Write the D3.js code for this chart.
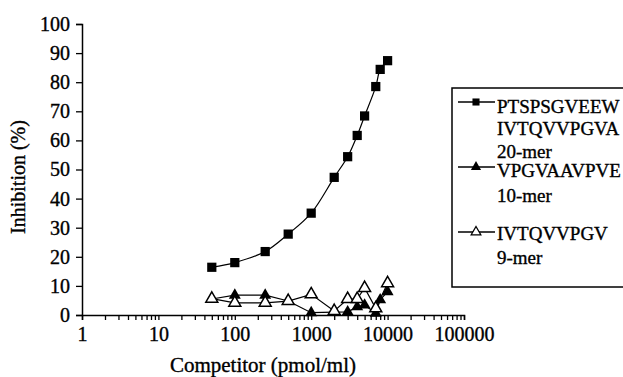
<!DOCTYPE html>
<html><head><meta charset="utf-8">
<script src="https://cdn.jsdelivr.net/npm/d3@7"></script>
<style>body{margin:0;background:#fff}text{font-family:"Liberation Serif","Times New Roman",serif;fill:#000;stroke:#000;stroke-width:0.35px}</style>
</head><body><svg id="c" width="623" height="377"></svg>
<script>
const conc20 = [50,100,250,500,1000,2000,3000,4000,5000,7000,8000,10000];
const inh20  = [16.4,18.0,21.8,27.8,35.0,47.3,54.4,61.7,68.4,78.5,84.4,87.4];
const conc10 = [50,100,250,500,1000,2000,3000,4000,5000,7000,8000,10000];
const inh10  = [5.5,6.8,6.8,4.8,0.8,1.0,1.1,2.8,3.4,0.6,5.2,8.0];
const conc9  = [50,100,250,500,1000,2000,3000,4000,5000,7000,10000];
const inh9   = [5.6,4.2,4.2,4.8,7.1,1.4,5.5,5.5,9.3,2.3,10.9];
const yTicks = [0,10,20,30,40,50,60,70,80,90,100];
const xTicks = [1,10,100,1000,10000,100000];
const legendLabels = [["PTSPSGVEEW","IVTQVVPGVA","20-mer"],["VPGVAAVPVE","10-mer"],["IVTQVVPGV","9-mer"]];
const xTitle = "Competitor (pmol/ml)";
const yTitle = "Inhibition (%)";

const svg = d3.select("#c");
const x = d3.scaleLog().domain([1,100000]).range([82,464]);
const y = d3.scaleLinear().domain([0,100]).range([315,24]);

const ya = svg.append("g").attr("transform","translate(82,0)")
  .call(d3.axisLeft(y).tickValues(yTicks).tickSize(6).tickPadding(6));
ya.selectAll("text").style("font-size","20px").attr("font-family","Liberation Serif");
const minor = [];
for (let d=1; d<100000; d*=10) for (let k=1;k<=9;k++) minor.push(d*k);
minor.push(100000);
const xa = svg.append("g").attr("transform","translate(0,315)")
  .call(d3.axisBottom(x).tickValues(minor).tickSize(5).tickPadding(7)
    .tickFormat(d => xTicks.includes(d) ? String(d) : ""));
xa.selectAll("text").style("font-size","20px").attr("font-family","Liberation Serif");
svg.selectAll(".domain").attr("stroke","#000").attr("stroke-width",1.5);
svg.selectAll(".tick line").attr("stroke","#000").attr("stroke-width",1.3);

svg.append("text").attr("x",263).attr("y",372).attr("text-anchor","middle")
  .style("font-size","21px").text(xTitle);
svg.append("text").attr("transform","translate(25,177) rotate(-90)").attr("text-anchor","middle")
  .style("font-size","20px").text(yTitle);

const line = d3.line().x(d=>x(d[0])).y(d=>y(d[1]));
const d20 = d3.zip(conc20,inh20), d10 = d3.zip(conc10,inh10), d9 = d3.zip(conc9,inh9);
svg.append("path").datum(d20).attr("d", d3.line().x(d=>x(d[0])).y(d=>y(d[1])).curve(d3.curveCatmullRom)).attr("fill","none").attr("stroke","#000").attr("stroke-width",1.2);
svg.append("path").datum(d10).attr("d", line).attr("fill","none").attr("stroke","#000").attr("stroke-width",1.2);
svg.append("path").datum(d9).attr("d", line).attr("fill","none").attr("stroke","#000").attr("stroke-width",1.2);

const sq = d3.symbol().type(d3.symbolSquare).size(85);
const tri = d3.symbol().type(d3.symbolTriangle).size(62);
svg.append("g").selectAll("path").data(d20).join("path")
  .attr("transform",d=>`translate(${x(d[0])},${y(d[1])})`).attr("d",sq).attr("fill","#000");
svg.append("g").selectAll("path").data(d10).join("path")
  .attr("transform",d=>`translate(${x(d[0])},${y(d[1])})`).attr("d",tri).attr("fill","#000");
svg.append("g").selectAll("path").data(d9).join("path")
  .attr("transform",d=>`translate(${x(d[0])},${y(d[1])})`).attr("d",tri).attr("fill","#fff").attr("stroke","#000").attr("stroke-width",1.5);

const lg = svg.append("g");
lg.append("rect").attr("x",452).attr("y",88).attr("width",200).attr("height",199)
  .attr("fill","#fff").attr("stroke","#000").attr("stroke-width",1.5);
const entryY = [102,167,232];
const textY = [[113,135,158],[177,202],[240,264]];
const legSyms = [
  {d:d3.symbol().type(d3.symbolSquare).size(50)(), f:"#000", s:"none"},
  {d:d3.symbol().type(d3.symbolTriangle).size(45)(), f:"#000", s:"none"},
  {d:d3.symbol().type(d3.symbolTriangle).size(40)(), f:"#fff", s:"#000"}];
legendLabels.forEach((lines,i)=>{
  const yy = entryY[i];
  lg.append("line").attr("x1",458).attr("x2",495).attr("y1",yy).attr("y2",yy).attr("stroke","#000").attr("stroke-width",1.3);
  lg.append("path").attr("transform",`translate(476,${yy})`).attr("d",legSyms[i].d)
    .attr("fill",legSyms[i].f).attr("stroke",legSyms[i].s).attr("stroke-width",1.3);
  lines.forEach((t,j)=>{
    lg.append("text").attr("x",497).attr("y",textY[i][j]).style("font-size","19px").text(t);
  });
});
</script></body></html>
